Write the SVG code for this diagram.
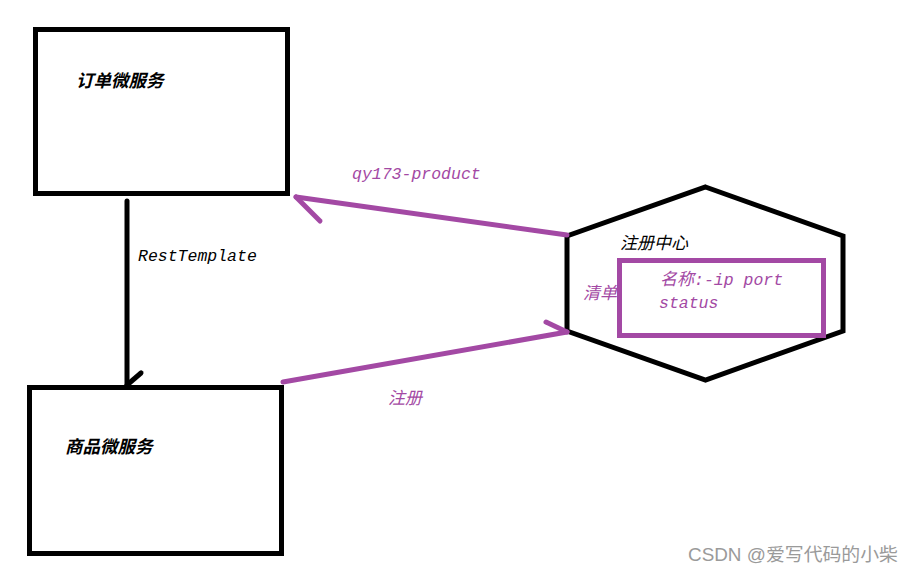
<svg xmlns="http://www.w3.org/2000/svg" width="914" height="574" viewBox="0 0 914 574">
<style>
.box{fill:none;stroke:#000;stroke-width:5}
.hex{fill:#fff;stroke:#000;stroke-width:5;stroke-linejoin:miter}
.prect{fill:none;stroke:#a349a4;stroke-width:5}
.pl{fill:none;stroke:#a349a4;stroke-width:5;stroke-linecap:round}
.bl{fill:none;stroke:#000;stroke-width:5;stroke-linecap:round}
.t{font-family:"Liberation Mono","Noto Sans CJK SC",monospace;font-style:italic;font-size:16.5px}
.k{fill:#000}
.p{fill:#a349a4}
.cj{font-family:"Noto Sans CJK SC","Liberation Sans",sans-serif;font-style:italic;font-size:17px}
.big{font-size:17.5px}
</style>
<rect width="914" height="574" fill="#fff"/>
<g id="order-service">
<rect class="box" x="35.5" y="29.5" width="252" height="164"/>
<text class="cj big k" x="76" y="87" font-weight="bold">订单微服务</text>
</g>
<g id="product-service">
<rect class="box" x="29.5" y="387.5" width="252" height="166"/>
<text class="cj big k" x="65" y="453" font-weight="bold">商品微服务</text>
</g>
<g id="registry">
<polygon class="hex" points="705.5,187 843,236 843,331 705.5,380 567,331 567,236"/>
<text class="cj k" x="620" y="249">注册中心</text>
<text class="cj p" x="583" y="299">清单</text>
<rect class="prect" x="619.5" y="260.5" width="204" height="75"/>
<text class="t p" x="660" y="285"><tspan class="cj">名称</tspan>:-ip port</text>
<text class="t p" x="659" y="308">status</text>
</g>
<g id="connectors">
<line class="bl" x1="127" y1="201" x2="127" y2="385"/>
<line class="bl" x1="127" y1="385" x2="141" y2="373"/>
<line class="pl" x1="567" y1="235" x2="296" y2="197"/>
<line class="pl" x1="296" y1="197" x2="320" y2="221"/>
<line class="pl" x1="283" y1="382" x2="567" y2="332"/>
<line class="pl" x1="567" y1="332" x2="546" y2="322"/>
<text class="t p" x="352" y="179">qy173-product</text>
<text class="t k" x="138" y="261">RestTemplate</text>
<text class="cj p" x="388" y="404">注册</text>
</g>
<text x="688" y="561" font-family="'Liberation Sans','Noto Sans CJK SC',sans-serif" font-size="18" fill="#9a9a9a" textLength="210" lengthAdjust="spacingAndGlyphs">CSDN @爱写代码的小柴</text>
</svg>
